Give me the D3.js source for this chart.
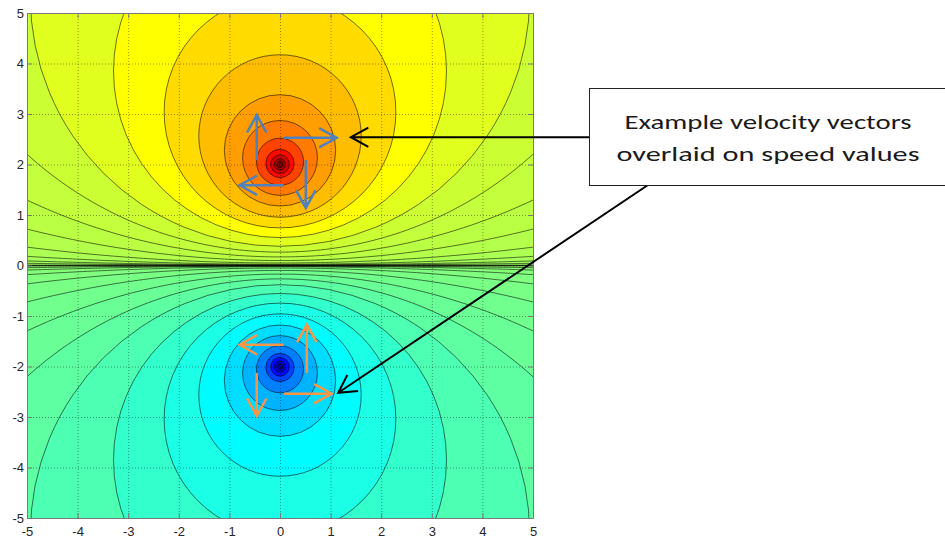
<!DOCTYPE html>
<html>
<head>
<meta charset="utf-8">
<script src="https://cdn.jsdelivr.net/npm/d3@7"></script>
<style>
body { margin: 0; background: #fff; }
.tick text { font-family: "Liberation Sans", Arial, sans-serif; font-size: 13px; fill: #262626; }
.axis path, .axis line { stroke: #7a7a7a; }
</style>
</head>
<body>
<div id="chart"></div>
<script>
// contour circles of the upper vortex, given by where they cut the x = 0 axis
// (near = side facing y = 0, far = other side, far ones estimated off the plot)
var nearY = [0.006, 0.0125, 0.025, 0.05, 0.098, 0.17, 0.265, 0.39, 0.56, 0.75, 0.96, 1.18, 1.39, 1.59, 1.74, 1.82, 1.89, 1.94];
var farY = [667, 320, 160, 80, 40.8, 23.5, 15.1, 10.26, 7.14, 5.33, 4.17, 3.38, 2.87, 2.52, 2.30, 2.19, 2.11, 2.06];

// speed level of each band (0..1 on the colour map), from the y = 0 band in to the core
var topLevels = [0.53, 0.534, 0.538, 0.544, 0.551, 0.558, 0.566, 0.575, 0.595, 0.625, 0.66, 0.69, 0.72, 0.755, 0.81, 0.865, 0.92, 0.9675, 1.0];
var bottomLevels = [0.515, 0.51, 0.505, 0.5, 0.494, 0.486, 0.478, 0.466, 0.45, 0.425, 0.4, 0.372, 0.342, 0.3, 0.25, 0.19, 0.135, 0.08, 0.02];

// example velocity vectors [x0, y0, x1, y1]
var topVectors = [[-0.46, 2.09, -0.46, 2.98], [0.07, 2.53, 1.12, 2.53], [0.51, 2.09, 0.51, 1.14], [0.07, 1.59, -0.80, 1.59]];
var bottomVectors = [[0.07, -1.57, -0.80, -1.57], [-0.46, -2.13, -0.46, -2.98], [0.53, -2.13, 0.53, -1.17], [0.08, -2.54, 1.02, -2.54]];

var ticks = [-5, -4, -3, -2, -1, 0, 1, 2, 3, 4, 5];
var gridTicks = [-4, -3, -2, -1, 0, 1, 2, 3, 4];
var noteLines = ["Example velocity vectors", "overlaid on speed values"];
// where the two callout arrows point, in data units
var noteTargets = [[1.40, 2.54], [1.15, -2.52]];

var svgWidth = 945, svgHeight = 538;
var plot = {left: 27, right: 533, top: 13, bottom: 518};

var svg = d3.select("#chart").append("svg")
  .attr("width", svgWidth)
  .attr("height", svgHeight);

var x = d3.scaleLinear().domain([-5, 5]).range([plot.left, plot.right]);
var y = d3.scaleLinear().domain([-5, 5]).range([plot.bottom, plot.top]);
var jet = d3.scaleLinear()
  .domain([0, 0.125, 0.375, 0.625, 0.875, 1])
  .range(["#00007f", "#0000ff", "#00ffff", "#ffff00", "#ff0000", "#7f0000"]);

var arcLine = d3.line().x(function(p) { return x(p[0]); }).y(function(p) { return y(p[1]); });

// circle centred on x = 0; big ones are drawn as their visible near-side arc only
function circlePath(c, r) {
  if (r < 5.5) {
    var cx = x(0), cy = y(c), pr = x(r) - x(0);
    return "M" + (cx - pr) + "," + cy + "A" + pr + "," + pr + " 0 1,0 " + (cx + pr) + "," + cy +
      "A" + pr + "," + pr + " 0 1,0 " + (cx - pr) + "," + cy + "Z";
  }
  var s = c > 0 ? 1 : -1;
  var pts = d3.range(-5.4, 5.41, 0.1).map(function(u) { return [u, c - s * Math.sqrt(r * r - u * u)]; });
  pts.push([5.4, s * 6], [-5.4, s * 6]);
  return arcLine(pts) + "Z";
}

function contours(sign) {
  return nearY.map(function(n, i) { return {c: sign * (n + farY[i]) / 2, r: (farY[i] - n) / 2}; });
}

svg.append("clipPath").attr("id", "plotClip")
  .append("rect")
  .attr("x", plot.left).attr("y", plot.top)
  .attr("width", plot.right - plot.left).attr("height", plot.bottom - plot.top);

var field = svg.append("g").attr("clip-path", "url(#plotClip)");

// filled bands, outermost first
function fillHalf(sign, levels) {
  field.append("rect")
    .attr("x", plot.left)
    .attr("width", plot.right - plot.left)
    .attr("y", sign > 0 ? y(5) : y(0))
    .attr("height", sign > 0 ? y(0) - y(5) : y(-5) - y(0))
    .attr("fill", jet(levels[0]));
  field.append("g").selectAll("path")
    .data(contours(sign))
    .enter().append("path")
    .attr("d", function(d) { return circlePath(d.c, d.r); })
    .attr("fill", function(d, i) { return jet(levels[i + 1]); });
}
fillHalf(1, topLevels);
fillHalf(-1, bottomLevels);

// grid
var grid = field.append("g")
  .attr("stroke", "#000").attr("stroke-opacity", 0.4)
  .attr("stroke-dasharray", "1,2").attr("stroke-width", 1);
grid.selectAll(".gx").data(gridTicks).enter().append("line")
  .attr("x1", function(d) { return x(d) + 0.5; }).attr("x2", function(d) { return x(d) + 0.5; })
  .attr("y1", plot.top).attr("y2", plot.bottom);
grid.selectAll(".gy").data(gridTicks).enter().append("line")
  .attr("y1", function(d) { return y(d) + 0.5; }).attr("y2", function(d) { return y(d) + 0.5; })
  .attr("x1", plot.left).attr("x2", plot.right);

// contour lines
[1, -1].forEach(function(sign) {
  field.append("g").selectAll("path")
    .data(contours(sign))
    .enter().append("path")
    .attr("d", function(d) { return circlePath(d.c, d.r); })
    .attr("fill", "none")
    .attr("stroke", "#000")
    .attr("stroke-opacity", 0.55)
    .attr("stroke-width", 1);
});
field.append("line")
  .attr("x1", plot.left).attr("x2", plot.right)
  .attr("y1", y(0)).attr("y2", y(0))
  .attr("stroke", "#000").attr("stroke-width", 1.6).attr("stroke-opacity", 0.85);

// axes with inward ticks on all four sides
var label = function(d) { return String(d); };
svg.append("g").attr("class", "axis")
  .attr("transform", "translate(0," + plot.bottom + ")")
  .call(d3.axisBottom(x).tickValues(ticks).tickSize(-5).tickSizeOuter(0).tickPadding(9).tickFormat(label));
svg.append("g").attr("class", "axis")
  .attr("transform", "translate(" + plot.left + ",0)")
  .call(d3.axisLeft(y).tickValues(ticks).tickSize(-5).tickSizeOuter(0).tickPadding(3).tickFormat(label));
svg.append("g").attr("class", "axis")
  .attr("transform", "translate(0," + plot.top + ")")
  .call(d3.axisTop(x).tickValues(ticks).tickSize(-5).tickSizeOuter(0).tickFormat(""));
svg.append("g").attr("class", "axis")
  .attr("transform", "translate(" + plot.right + ",0)")
  .call(d3.axisRight(y).tickValues(ticks).tickSize(-5).tickSizeOuter(0).tickFormat(""));

// open arrow path between two pixel points
function arrowPath(x0, y0, x1, y1, len, ang) {
  var t = Math.atan2(y1 - y0, x1 - x0);
  var a = ang * Math.PI / 180;
  var w1 = [x1 - len * Math.cos(t - a), y1 - len * Math.sin(t - a)];
  var w2 = [x1 - len * Math.cos(t + a), y1 - len * Math.sin(t + a)];
  return "M" + x0 + "," + y0 + "L" + x1 + "," + y1 +
    "M" + w1[0] + "," + w1[1] + "L" + x1 + "," + y1 + "L" + w2[0] + "," + w2[1];
}

function drawVectors(data, colour) {
  svg.append("g").selectAll("path")
    .data(data)
    .enter().append("path")
    .attr("d", function(d) { return arrowPath(x(d[0]), y(d[1]), x(d[2]), y(d[3]), 20, 29); })
    .attr("fill", "none")
    .attr("stroke", colour)
    .attr("stroke-width", 2.5);
}
drawVectors(topVectors, "#4f81bd");
drawVectors(bottomVectors, "#f79646");

// callout box and arrows
var box = {x: 589, y: 88, w: 362, h: 97};
svg.append("path")
  .attr("d", arrowPath(box.x, 137.3, x(noteTargets[0][0]), y(noteTargets[0][1]), 20, 29))
  .attr("fill", "none").attr("stroke", "#000").attr("stroke-width", 2);
svg.append("path")
  .attr("d", arrowPath(648, box.y + box.h, x(noteTargets[1][0]), y(noteTargets[1][1]), 20, 29))
  .attr("fill", "none").attr("stroke", "#000").attr("stroke-width", 2);

svg.append("rect")
  .attr("x", box.x + 0.5).attr("y", box.y + 0.5)
  .attr("width", box.w).attr("height", box.h)
  .attr("fill", "#fff").attr("stroke", "#222").attr("stroke-width", 1);

svg.selectAll(".note").data(noteLines).enter().append("text")
  .attr("x", 768)
  .attr("y", function(d, i) { return 129 + i * 31.5; })
  .attr("text-anchor", "middle")
  .attr("font-family", "Carlito, 'Open Sans', Lato, sans-serif")
  .attr("font-size", "21px")
  .attr("font-weight", 400)
  .attr("fill", "#1a1a1a")
  .attr("textLength", function(d, i) { return i === 0 ? 287 : 303; })
  .attr("lengthAdjust", "spacingAndGlyphs")
  .text(function(d) { return d; });
</script>
</body>
</html>
